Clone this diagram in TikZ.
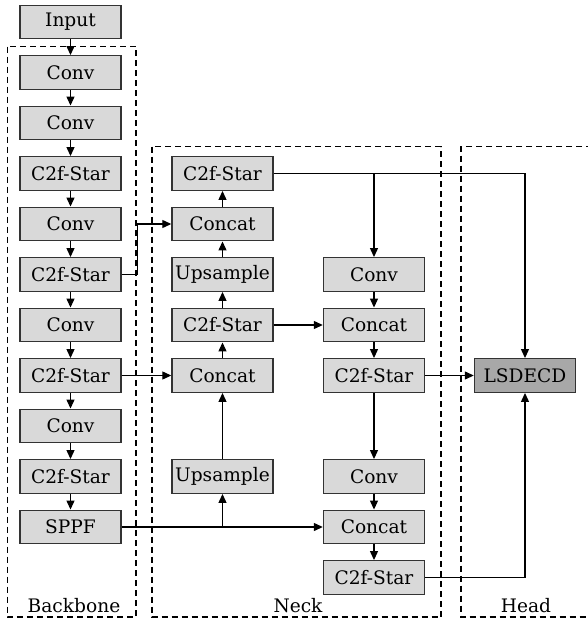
\documentclass[tikz,border=0pt]{standalone}
\usepackage{fontspec}
\setmainfont{DejaVu Serif}
\usetikzlibrary{arrows.meta}
\definecolor{boxfill}{HTML}{D9D9D9}
\definecolor{headfill}{HTML}{A8A8A8}
\definecolor{edge}{HTML}{333333}
\tikzset{
  blk/.style={draw=edge, fill=boxfill, line width=1.4pt, minimum width=101pt, minimum height=33.5pt, inner sep=0pt, font=\fontsize{18.6}{20}\selectfont},
  headblk/.style={blk, fill=headfill},
  arr/.style={line width=1.2pt, -{Triangle[length=9pt,width=8pt]}},
  region/.style={line width=1.2pt, dash pattern=on 6pt off 4pt},
  lbl/.style={anchor=base, font=\fontsize{18.6}{20}\selectfont, inner sep=0pt}
}
\begin{document}
\begin{tikzpicture}[x=1pt,y=-1pt]
\useasboundingbox (0,0) rectangle (587,619);
% regions
\draw[region] (7.5,46.5) rectangle (136,617);
\draw[region] (152,146.5) rectangle (441,617);
\draw[region] (592,146.5) -- (461,146.5) -- (461,617) -- (592,617);
\node[lbl] (lb) at (74,612) {Backbone};
\node[lbl] (ln) at (298,612) {Neck};
\node[lbl] (lh) at (526,612) {Head};
% backbone
\node[blk] (b0) at (70.5,22) {Input};
\node[blk] (b1) at (70.5,72.5) {Conv};
\node[blk] (b2) at (70.5,123) {Conv};
\node[blk] (b3) at (70.5,173.5) {C2f-Star};
\node[blk] (b4) at (70.5,224) {Conv};
\node[blk] (b5) at (70.5,274.5) {C2f-Star};
\node[blk] (b6) at (70.5,325) {Conv};
\node[blk] (b7) at (70.5,375.5) {C2f-Star};
\node[blk] (b8) at (70.5,426) {Conv};
\node[blk] (b9) at (70.5,476.5) {C2f-Star};
\node[blk] (b10) at (70.5,527) {SPPF};
% neck left
\node[blk] (n0) at (222.5,173.5) {C2f-Star};
\node[blk] (n1) at (222.5,224) {Concat};
\node[blk] (n2) at (222.5,274.5) {Upsample};
\node[blk] (n3) at (222.5,325) {C2f-Star};
\node[blk] (n4) at (222.5,375.5) {Concat};
\node[blk] (n5) at (222.5,476.5) {Upsample};
% neck right
\node[blk] (r0) at (374,274.5) {Conv};
\node[blk] (r1) at (374,325) {Concat};
\node[blk] (r2) at (374,375.5) {C2f-Star};
\node[blk] (r3) at (374,476.5) {Conv};
\node[blk] (r4) at (374,527) {Concat};
\node[blk] (r5) at (374,577.5) {C2f-Star};
% head
\node[headblk] (L) at (525,375.5) {LSDECD};
% backbone chain
\foreach \a/\b in {b0/b1,b1/b2,b2/b3,b3/b4,b4/b5,b5/b6,b6/b7,b7/b8,b8/b9,b9/b10}
  \draw[arr] (\a) -- (\b);
% backbone to neck
\draw[arr] (b5.east) -- ++(16,0) |- (n1.west);
\draw[arr] (b7) -- (n4);
\draw[arr] (b10) -- (r4);
\draw[arr] (n5.south |- b10.east) -- (n5.south);
% neck left upward chain
\foreach \a/\b in {n5/n4,n4/n3,n3/n2,n2/n1,n1/n0}
  \draw[arr] (\a) -- (\b);
\draw[arr] (n3) -- (r1);
% top branch
\draw[arr] (n0.east) -| (L.north);
\draw[arr] (r0.north |- n0.east) -- (r0.north);
% neck right downward chain
\foreach \a/\b in {r0/r1,r1/r2,r2/r3,r3/r4,r4/r5}
  \draw[arr] (\a) -- (\b);
\draw[arr] (r2) -- (L);
\draw[arr] (r5.east) -| (L.south);
\end{tikzpicture}
\end{document}
